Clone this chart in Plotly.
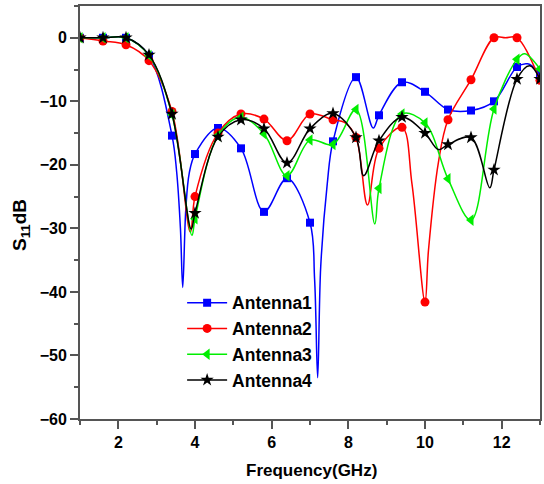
import plotly.graph_objects as go

# Frequencies (GHz) at which the symbols are drawn
marker_freqs = [1.0, 1.6, 2.2, 2.8, 3.4, 4.0, 4.6, 5.2, 5.8, 6.4, 7.0,
                7.6, 8.2, 8.8, 9.4, 10.0, 10.6, 11.2, 11.8, 12.4, 13.0]

# Antenna 1 (includes resonance dips)
ant1_f = [1.0, 1.6, 2.2, 2.8, 3.4, 3.52, 3.62, 3.68, 3.76, 3.85, 4.0, 4.6, 5.2, 5.8, 6.4,
          7.0, 7.12, 7.2, 7.28, 7.45, 7.6, 8.2, 8.65, 8.8, 9.4, 10.0, 10.6, 11.2,
          11.8, 12.4, 12.68, 13.0]
ant1_db = [0, 0, 0, -2.8, -15.4, -21.0, -30.0, -39.3, -27.0, -21.3, -18.3, -14.2, -17.4, -27.4, -22.1,
           -29.1, -38.0, -53.5, -36.0, -23.0, -16.3, -6.2, -14.2, -12.2, -7.0, -8.5, -11.3, -11.45,
           -10.0, -4.6, -4.1, -5.6]

# Antenna 2
ant2_f = [1.0, 1.6, 2.2, 2.8, 3.4, 3.88, 4.0, 4.6, 5.2, 5.8, 6.4, 7.0, 7.6, 7.9, 8.2, 8.5,
          8.8, 9.4, 9.66, 10.0, 10.09, 10.35, 10.6, 11.2, 11.8, 12.1, 12.4, 13.0]
ant2_db = [0, -0.5, -1.1, -3.6, -11.6, -30.6, -25.0, -15.0, -12.0, -12.8, -16.2, -12.0, -12.9, -13.3, -15.7, -26.3,
           -17.4, -14.1, -23.0, -41.6, -33.5, -19.6, -12.9, -6.6, 0, 0, 0, -6.7]

# Antenna 3
ant3_f = [1.0, 1.6, 2.2, 2.8, 3.4, 3.92, 4.0, 4.6, 5.2, 5.8, 6.4, 7.0, 7.6, 8.2, 8.69,
          8.8, 9.4, 10.0, 10.6, 11.2, 11.8, 12.4, 12.6, 13.0]
ant3_db = [0, 0, 0, -2.8, -12.1, -31.1, -28.5, -15.4, -12.5, -15.1, -21.7, -16.1, -16.8, -11.3, -29.3,
           -23.7, -12.0, -13.4, -22.2, -28.7, -11.2, -3.4, -2.5, -4.9]

# Antenna 4
ant4_f = [1.0, 1.6, 2.2, 2.8, 3.4, 3.9, 4.0, 4.6, 5.2, 5.8, 6.4, 7.0, 7.6, 8.2, 8.4,
          8.8, 9.4, 10.0, 10.35, 10.6, 11.2, 11.69, 11.8, 12.4, 12.73, 13.0]
ant4_db = [0, 0, 0, -2.7, -12.0, -30.1, -27.6, -15.6, -12.9, -14.3, -19.7, -14.3, -11.9, -15.7, -21.7,
           -16.2, -12.5, -15.0, -17.6, -16.8, -15.7, -23.6, -20.8, -6.5, -4.4, -6.5]

series_names = ["Antenna1", "Antenna2", "Antenna3", "Antenna4"]
series_colors = ["#0000ff", "#ff0000", "#00ee00", "#000000"]
series_symbols = ["square", "circle", "triangle-left", "star"]
series_sizes = [8, 9, 10, 10]
series_data = [(ant1_f, ant1_db), (ant2_f, ant2_db), (ant3_f, ant3_db), (ant4_f, ant4_db)]

FONT = "Liberation Sans, Arial, sans-serif"

fig = go.Figure()
for name, color, sym, size, (fx, fy) in zip(series_names, series_colors, series_symbols,
                                            series_sizes, series_data):
    fig.add_trace(go.Scatter(x=fx, y=fy, mode="lines",
                             line=dict(color=color, width=1.5, shape="spline", smoothing=1.0),
                             showlegend=False, hoverinfo="skip"))
    mx = [f for f in fx if f in marker_freqs]
    my = [v for f, v in zip(fx, fy) if f in marker_freqs]
    fig.add_trace(go.Scatter(x=mx, y=my, mode="markers",
                             marker=dict(color=color, symbol=sym, size=size, line=dict(width=0)),
                             showlegend=False))
    fig.add_trace(go.Scatter(x=[None], y=[None], mode="lines+markers", name=name,
                             line=dict(color=color, width=1.5),
                             marker=dict(color=color, symbol=sym, size=size, line=dict(width=0))))

axis_common = dict(
    showline=True, linecolor="#555555", linewidth=2, mirror=True,
    showgrid=False, zeroline=False,
    ticks="outside", ticklen=8, tickwidth=1.5, tickcolor="#555555",
    tickfont=dict(family=FONT, size=16, color="black", weight="bold"),
)

fig.update_xaxes(range=[1, 13], tick0=0, dtick=2,
                 minor=dict(dtick=1, tick0=0, ticks="outside", ticklen=4, tickwidth=1.5,
                            tickcolor="#555555"),
                 **axis_common)
fig.update_yaxes(range=[-60, 5], tick0=0, dtick=10,
                 minor=dict(dtick=5, tick0=0, ticks="outside", ticklen=4, tickwidth=1.5,
                            tickcolor="#555555"),
                 **axis_common)

fig.add_annotation(text="Frequency(GHz)", xref="paper", yref="paper", x=0.504, y=-0.125,
                   xanchor="center", yanchor="middle", showarrow=False,
                   font=dict(family=FONT, size=17, color="black", weight="bold"))
fig.add_annotation(text="S<sub>11</sub>dB", xref="paper", yref="paper", x=-0.128, y=0.47,
                   xanchor="center", yanchor="middle", showarrow=False, textangle=-90,
                   font=dict(family=FONT, size=19, color="black", weight="bold"))

fig.update_layout(
    width=544, height=484,
    margin=dict(l=80, r=2, t=6, b=65),
    paper_bgcolor="white", plot_bgcolor="white",
    legend=dict(x=0.222, y=0.325, xanchor="left", yanchor="top",
                bgcolor="rgba(0,0,0,0)", borderwidth=0,
                font=dict(family=FONT, size=17.5, color="black", weight="bold"),
                itemwidth=40, tracegroupgap=0),
)

fig.write_html("out.html", config={"displayModeBar": False},
               post_script="document.body.style.margin='0';document.body.style.overflow='hidden';")
